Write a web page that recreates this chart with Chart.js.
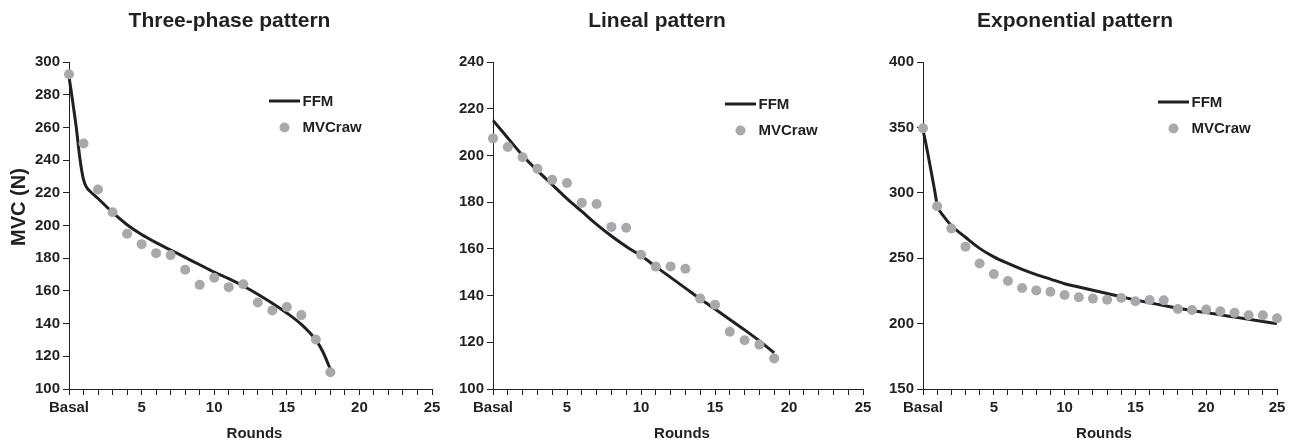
<!DOCTYPE html>
<html>
<head>
<meta charset="utf-8">
<script src="https://cdn.jsdelivr.net/npm/chart.js@4.4.0/dist/chart.umd.min.js"></script>
<style>
  html, body { margin: 0; padding: 0; background: #ffffff; }
  #wrap { position: relative; width: 1294px; height: 444px; overflow: hidden; background: #ffffff; }
  #wrap canvas { position: absolute; left: 0; top: 0; }
</style>
</head>
<body>
<div id="wrap">
  <canvas id="threePhase" width="1294" height="444"></canvas>
  <canvas id="lineal" width="1294" height="444"></canvas>
  <canvas id="exponential" width="1294" height="444"></canvas>
</div>
<script>
// ---- Data: MVC (N) per round; round 0 is the basal measurement ----
const xTickLabels = { 0: 'Basal', 5: '5', 10: '10', 15: '15', 20: '20', 25: '25' };

// Three-phase pattern
const threeRounds = [0,1,2,3,4,5,6,7,8,9,10,11,12,13,14,15,16,17,18];
const threeRaw    = [292.5,250.1,222.0,208.1,194.9,188.6,183.1,181.9,172.9,163.7,168.0,162.3,164.1,152.9,148.0,150.1,145.2,130.3,110.2];
const threeFitX   = [0,0.25,0.5,0.75,1.0,1.2,1.5,2,3,4,5,6,7,8,9,10,11,12,13,14,15,16,17,17.5,18];
const threeFitY   = [291,276,260,241,228,223.5,220.5,216.5,208,200.5,194.5,189.5,185,180.5,176,171.5,167.5,163,158,152.5,146.5,139.5,130,122.5,112];

// Lineal pattern
const linRounds = [0,1,2,3,4,5,6,7,8,9,10,11,12,13,14,15,16,17,18,19];
const linRaw    = [207.3,203.6,199.2,194.3,189.6,188.2,179.7,179.2,169.4,169.0,157.5,152.4,152.5,151.5,138.7,136.1,124.5,120.9,119.0,113.1];
const linFitX   = [0,1,2,3,4,5,6,7,8,9,10,11,12,13,14,15,16,17,18,19];
const linFitY   = [215,207.5,200,193.5,187.5,181.5,176,170.5,165.5,161,157,152.4,147.8,143.2,138.6,134.2,129.8,125.3,120.6,115.5];

// Exponential pattern
const expRounds = [0,1,2,3,4,5,6,7,8,9,10,11,12,13,14,15,16,17,18,19,20,21,22,23,24,25];
const expRaw    = [349.4,289.7,272.7,258.7,246.0,237.9,232.6,227.2,225.4,224.4,221.9,220.1,219.1,218.3,219.6,217.1,218.1,217.8,211.2,210.4,210.7,209.4,208.2,206.4,206.4,204.1];
const expFitX   = [0,0.16,0.48,0.82,1,1.5,2,3,4,5,6,7,8,9,10,11,12,13,14,15,16,17,18,19,20,21,22,23,24,25];
const expFitY   = [348,340,322,302,291,281.5,275,266,257.5,251,246,241.5,237.5,234,230.5,228,225.5,223,220.5,218,216,213.8,211.8,210,208.4,206.7,205,203.3,201.6,200];

// ---- Styling ----
const INK = '#231f20';
const DOT = '#a7a9ac';
const FAMILY = '"Liberation Sans", Arial, Helvetica, sans-serif';
const W = 1294, H = 444;
const Y_AXIS_W = 60;

const toPoints = (xs, ys) => xs.map((x, i) => ({ x: x, y: ys[i] }));

// Titles, axis names and legend drawn on top of each panel
const panelText = {
  id: 'panelText',
  afterDraw(chart, args, o) {
    const ctx = chart.ctx;
    const area = chart.chartArea;
    ctx.save();
    ctx.fillStyle = INK;

    // panel title
    ctx.font = 'bold 21px ' + FAMILY;
    ctx.textAlign = 'center';
    ctx.textBaseline = 'alphabetic';
    ctx.fillText(o.title, (area.left + area.right) / 2 + o.titleShift, 27);

    // x axis name
    ctx.font = 'bold 15px ' + FAMILY;
    ctx.fillText('Rounds', (area.left + area.right) / 2 + 4, 438);

    // y axis name (first panel only)
    if (o.yTitle) {
      ctx.save();
      ctx.translate(19, 207);
      ctx.rotate(-Math.PI / 2);
      ctx.font = 'bold 20px ' + FAMILY;
      ctx.textBaseline = 'middle';
      ctx.fillText(o.yTitle, 0, 0);
      ctx.restore();
    }

    // legend
    const fit = chart.data.datasets[0];
    const raw = chart.data.datasets[1];
    const lx = o.legendX, ly = o.legendY, len = 31;
    ctx.strokeStyle = fit.borderColor;
    ctx.lineWidth = fit.borderWidth;
    ctx.beginPath();
    ctx.moveTo(lx, ly);
    ctx.lineTo(lx + len, ly);
    ctx.stroke();
    ctx.fillStyle = raw.backgroundColor;
    ctx.beginPath();
    ctx.arc(lx + len / 2, ly + 26.5, raw.pointRadius, 0, Math.PI * 2);
    ctx.fill();
    ctx.fillStyle = INK;
    ctx.font = 'bold 15px ' + FAMILY;
    ctx.textAlign = 'left';
    ctx.textBaseline = 'middle';
    ctx.fillText(fit.label, lx + len + 2.5, ly + 0.5);
    ctx.fillText(raw.label, lx + len + 2.5, ly + 27);
    ctx.restore();
  }
};

function makePanel(id, cfg) {
  const tickFont = { family: FAMILY, size: 15, weight: 'bold' };
  return new Chart(document.getElementById(id), {
    type: 'scatter',
    data: {
      datasets: [
        {
          label: 'FFM',
          data: toPoints(cfg.fitX, cfg.fitY),
          showLine: true,
          borderColor: INK,
          borderWidth: 3,
          pointRadius: 0,
          cubicInterpolationMode: 'monotone',
          clip: false,
          order: 2
        },
        {
          label: 'MVCraw',
          data: toPoints(cfg.rounds, cfg.raw),
          showLine: false,
          backgroundColor: DOT,
          borderWidth: 0,
          pointRadius: 5,
          clip: false,
          order: 1
        }
      ]
    },
    options: {
      responsive: false,
      animation: false,
      events: [],
      layout: {
        padding: { left: cfg.box.left - Y_AXIS_W, right: W - cfg.box.right, top: cfg.box.top, bottom: 0 }
      },
      plugins: {
        legend: { display: false },
        tooltip: { enabled: false },
        panelText: {
          title: cfg.title,
          titleShift: cfg.titleShift,
          yTitle: cfg.yTitle,
          legendX: cfg.legendX,
          legendY: cfg.legendY
        }
      },
      scales: {
        x: {
          type: 'linear',
          min: 0,
          max: 25,
          afterFit(s) { s.height = H - cfg.box.bottom; },
          ticks: {
            stepSize: 1,
            autoSkip: false,
            maxRotation: 0,
            color: INK,
            font: tickFont,
            padding: 4,
            callback: v => (v in xTickLabels ? xTickLabels[v] : '')
          },
          grid: { drawOnChartArea: false, drawTicks: true, tickLength: 6, color: INK, lineWidth: 1 },
          border: { color: INK, width: 1 }
        },
        y: {
          min: cfg.yMin,
          max: cfg.yMax,
          afterFit(s) { s.width = Y_AXIS_W; },
          ticks: { stepSize: cfg.yStep, color: INK, font: tickFont, padding: 3 },
          grid: { drawOnChartArea: false, drawTicks: true, tickLength: 6, color: INK, lineWidth: 1 },
          border: { color: INK, width: 1 }
        }
      }
    },
    plugins: [panelText]
  });
}

makePanel('threePhase', {
  title: 'Three-phase pattern', titleShift: -21, yTitle: 'MVC (N)',
  box: { left: 69, right: 432, top: 62, bottom: 389 },
  yMin: 100, yMax: 300, yStep: 20,
  rounds: threeRounds, raw: threeRaw, fitX: threeFitX, fitY: threeFitY,
  legendX: 269, legendY: 101
});

makePanel('lineal', {
  title: 'Lineal pattern', titleShift: -21, yTitle: null,
  box: { left: 493, right: 863, top: 62, bottom: 389 },
  yMin: 100, yMax: 240, yStep: 20,
  rounds: linRounds, raw: linRaw, fitX: linFitX, fitY: linFitY,
  legendX: 725, legendY: 104
});

makePanel('exponential', {
  title: 'Exponential pattern', titleShift: -25, yTitle: null,
  box: { left: 923, right: 1277, top: 62, bottom: 389 },
  yMin: 150, yMax: 400, yStep: 50,
  rounds: expRounds, raw: expRaw, fitX: expFitX, fitY: expFitY,
  legendX: 1158, legendY: 102
});
</script>
</body>
</html>
